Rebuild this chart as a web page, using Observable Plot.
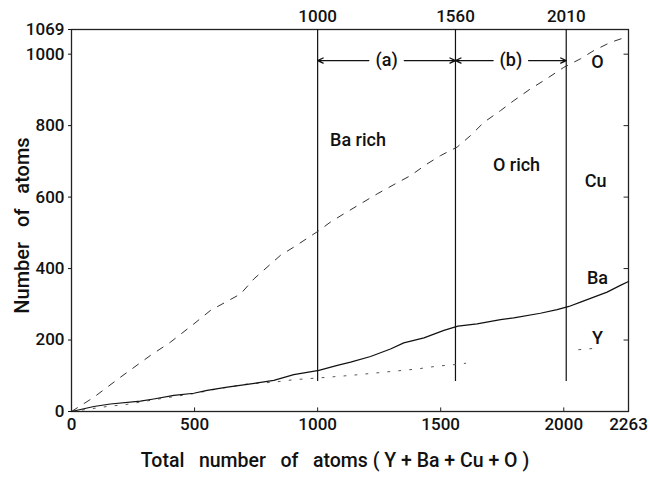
<!DOCTYPE html>
<html>
<head>
<meta charset="utf-8">
<script src="https://cdn.jsdelivr.net/npm/d3@7"></script>
<script src="https://cdn.jsdelivr.net/npm/@observablehq/plot@0.6"></script>
<style>
  html, body { margin: 0; padding: 0; background: #fff; }
  #chart svg text { font-weight: 500; }
</style>
</head>
<body>
<div id="chart"></div>
<script>
// Series: cumulative number of atoms vs total atoms (Y+Ba+Cu+O)
const oTotal = [0, 91, 199, 321, 402, 497, 565, 687, 741, 849, 903, 1005, 1052, 1106, 1174, 1242, 1310, 1377, 1445, 1499, 1567, 1621, 1675, 1743, 1797, 1865, 1919, 2000, 2068, 2122, 2190, 2263];
const oCount = [0, 40, 96, 157, 194, 245, 283, 329, 371, 437, 460, 506, 530, 553, 581, 609, 635, 660, 693, 716, 740, 772, 809, 842, 870, 903, 926, 963, 987, 1010, 1033, 1050];

const baTotal = [0, 91, 158, 280, 334, 416, 497, 551, 633, 714, 822, 903, 1005, 1080, 1134, 1215, 1296, 1350, 1432, 1513, 1570, 1648, 1743, 1797, 1905, 1973, 2021, 2068, 2122, 2176, 2230, 2263];
const baCount = [0, 14, 21, 29, 35, 45, 51, 59, 68, 76, 87, 103, 115, 129, 138, 154, 175, 192, 206, 227, 239, 245, 257, 262, 275, 285, 294, 306, 320, 334, 353, 364];

// Y curve is only partly visible (gap between ~1600 and ~2060)
const yTotal = [0, 145, 226, 362, 497, 592, 714, 822, 903, 1005, 1134, 1269, 1404, 1486, 1570, 1601, 1830, 2061, 2149];
const yCount = [0, 14, 20, 36, 50, 63, 77, 82, 89, 94, 101, 110, 119, 127, 132, 135, null, 173, 178];

// Region boundaries and labels
const boundaries = [1000, 1560, 2010];
const xTicks = [0, 500, 1000, 1500, 2000, 2263];
const yTicks = [0, 200, 400, 600, 800, 1000, 1069];
const regionNames = ["Ba rich", "O rich"];
const regionLabelX = [1164, 1808];
const regionLabelY = [758, 688];
const intervalNames = ["(a)", "(b)"];
const seriesNames = ["O", "Cu", "Ba", "Y"];
const seriesLabelX = [2137, 2129, 2137, 2137];
const seriesLabelY = [976, 644, 372, 204];
const arrowLevel = 982;
const sp = "\u00a0\u00a0\u00a0";
const xTitle = "Total" + sp + "number" + sp + "of" + sp + "atoms ( Y + Ba + Cu + O )";
const yTitle = "Number" + sp + "of" + sp + "atoms";

const oData = oTotal.map((x, i) => ({x, y: oCount[i]}));
const baData = baTotal.map((x, i) => ({x, y: baCount[i]}));
const yData = yTotal.map((x, i) => ({x, y: yCount[i]}));

const intervals = intervalNames.map((name, i) => ({
  name, a: boundaries[i], b: boundaries[i + 1], mid: (boundaries[i] + boundaries[i + 1]) / 2
}));
const gap = 72;
const arrows = intervals.flatMap(d => [
  {x1: d.mid - gap, x2: d.a},
  {x1: d.mid + gap, x2: d.b}
]);

const regions = regionNames.map((name, i) => ({name, x: regionLabelX[i], y: regionLabelY[i]}));
const seriesLabels = seriesNames.map((name, i) => ({name, x: seriesLabelX[i], y: seriesLabelY[i]}));
const fmt = d3.format("d");

const chart = Plot.plot({
  width: 650,
  height: 480,
  marginLeft: 71,
  marginRight: 22,
  marginTop: 29,
  marginBottom: 69,
  style: {fontFamily: "Roboto, 'Liberation Sans', sans-serif", fontSize: "16px", color: "#111", background: "#fff"},
  x: {domain: [0, 2263]},
  y: {domain: [0, 1069]},
  marks: [
    Plot.frame({stroke: "#222", strokeWidth: 1.3}),
    Plot.axisY({ticks: yTicks, tickFormat: fmt, tickSize: 3, tickPadding: 4, fontSize: 17, label: null}),
    Plot.axisX({ticks: xTicks, tickFormat: fmt, tickSize: 0, tickPadding: 6, fontSize: 17, label: null}),
    Plot.axisX({anchor: "top", ticks: boundaries, tickFormat: fmt, tickSize: 0, tickPadding: 8, fontSize: 17, label: null}),
    Plot.text([yTitle], {frameAnchor: "left", textAnchor: "middle", rotate: -90, dx: -49, dy: 5, fontSize: 20, fill: "#111"}),
    Plot.text([xTitle], {frameAnchor: "bottom", textAnchor: "middle", dx: -15, dy: 55, fontSize: 19.5, fill: "#111"}),
    Plot.ruleX([500, 1000, 1500, 2000], {y1: 0, y2: 10, stroke: "#222"}),
    Plot.ruleY([200, 400, 600, 800, 1000], {x1: 2245, x2: 2263, stroke: "#222"}),
    Plot.ruleX(boundaries, {y1: 84, y2: 1069, stroke: "#111", strokeWidth: 1.2}),
    Plot.arrow(arrows, {x1: "x1", x2: "x2", y1: arrowLevel, y2: arrowLevel, stroke: "#111", strokeWidth: 1.3, headLength: 7, headAngle: 50}),
    Plot.text(intervals, {x: "mid", y: arrowLevel, text: "name", fontSize: 18, fill: "#111"}),
    Plot.line(oData, {x: "x", y: "y", stroke: "#333", strokeWidth: 1, strokeDasharray: "7,8"}),
    Plot.line(yData, {x: "x", y: "y", stroke: "#555", strokeWidth: 1, strokeDasharray: "2,9"}),
    Plot.line(baData, {x: "x", y: "y", stroke: "#111", strokeWidth: 1.2}),
    Plot.text(regions, {x: "x", y: "y", text: "name", fontSize: 18, fill: "#111"}),
    Plot.text(seriesLabels, {x: "x", y: "y", text: "name", fontSize: 18, fill: "#111"})
  ]
});
document.getElementById("chart").appendChild(chart);
</script>
</body>
</html>
